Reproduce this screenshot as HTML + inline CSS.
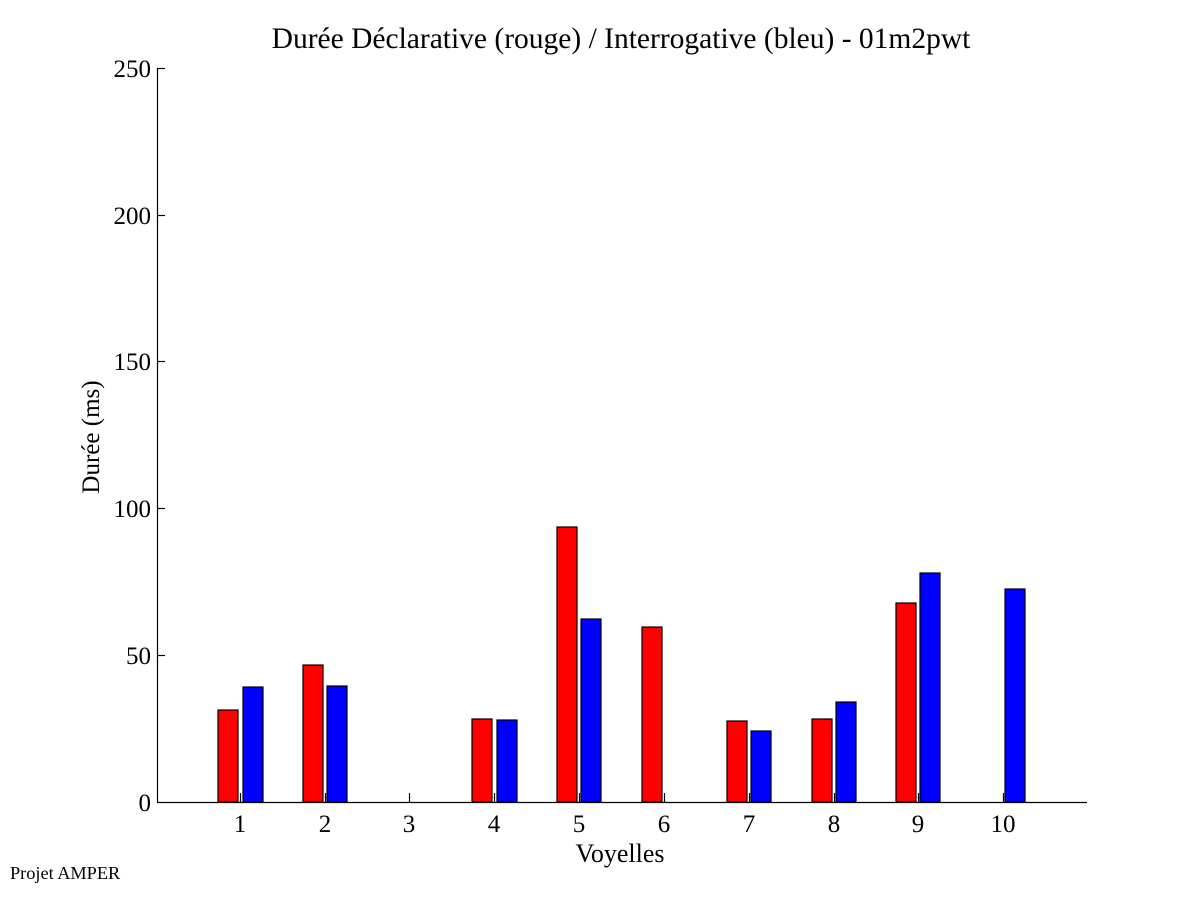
<!DOCTYPE html>
<html><head><meta charset="utf-8"><style>body{margin:0;background:#fff}svg{display:block}</style></head>
<body>
<svg width="1201" height="901" xmlns="http://www.w3.org/2000/svg" font-family="Liberation Serif, serif">
<rect width="1201" height="901" fill="#fff"/>
<text x="621" y="48" font-size="29.5" text-anchor="middle">Durée Déclarative (rouge) / Interrogative (bleu) - 01m2pwt</text>
<g stroke="#000" stroke-width="1.2" fill="none">
<line x1="157.5" y1="68" x2="157.5" y2="802"/>
<line x1="157" y1="802.5" x2="1087" y2="802.5"/>
<line x1="157" y1="68.5" x2="165" y2="68.5"/>
<line x1="157" y1="215.5" x2="165" y2="215.5"/>
<line x1="157" y1="361.5" x2="165" y2="361.5"/>
<line x1="157" y1="508.5" x2="165" y2="508.5"/>
<line x1="157" y1="655.5" x2="165" y2="655.5"/>
</g>
<g font-size="25" text-anchor="end">
<text x="151" y="77">250</text><text x="151" y="224">200</text><text x="151" y="370">150</text><text x="151" y="517">100</text><text x="151" y="664">50</text><text x="151" y="811">0</text>
</g>
<g stroke="#000" stroke-width="1.2">
<rect x="218" y="710" width="20" height="92" fill="#f00"/>
<rect x="243" y="687" width="20" height="115" fill="#00f"/>
<rect x="303" y="665" width="20" height="137" fill="#f00"/>
<rect x="327" y="686" width="20" height="116" fill="#00f"/>
<rect x="472" y="719" width="20" height="83" fill="#f00"/>
<rect x="497" y="720" width="20" height="82" fill="#00f"/>
<rect x="557" y="527" width="20" height="275" fill="#f00"/>
<rect x="581" y="619" width="20" height="183" fill="#00f"/>
<rect x="642" y="627" width="20" height="175" fill="#f00"/>
<rect x="727" y="721" width="20" height="81" fill="#f00"/>
<rect x="751" y="731" width="20" height="71" fill="#00f"/>
<rect x="812" y="719" width="20" height="83" fill="#f00"/>
<rect x="836" y="702" width="20" height="100" fill="#00f"/>
<rect x="896" y="603" width="20" height="199" fill="#f00"/>
<rect x="920" y="573" width="20" height="229" fill="#00f"/>
<rect x="1005" y="589" width="20" height="213" fill="#00f"/>
</g>
<g stroke="#000" stroke-width="1.2">
<line x1="240.5" y1="793" x2="240.5" y2="802"/><line x1="325.5" y1="793" x2="325.5" y2="802"/><line x1="409.5" y1="793" x2="409.5" y2="802"/><line x1="494.5" y1="793" x2="494.5" y2="802"/><line x1="579.5" y1="793" x2="579.5" y2="802"/><line x1="664.5" y1="793" x2="664.5" y2="802"/><line x1="749.5" y1="793" x2="749.5" y2="802"/><line x1="834.5" y1="793" x2="834.5" y2="802"/><line x1="918.5" y1="793" x2="918.5" y2="802"/><line x1="1003.5" y1="793" x2="1003.5" y2="802"/>
</g>
<g font-size="25" text-anchor="middle">
<text x="240" y="832">1</text><text x="325" y="832">2</text><text x="409" y="832">3</text><text x="494" y="832">4</text><text x="579" y="832">5</text><text x="664" y="832">6</text><text x="749" y="832">7</text><text x="834" y="832">8</text><text x="918" y="832">9</text><text x="1003" y="832">10</text>
</g>
<text x="620" y="862" font-size="26" text-anchor="middle">Voyelles</text>
<text transform="translate(99,437) rotate(-90)" font-size="25" text-anchor="middle">Durée (ms)</text>
<text x="10" y="879" font-size="18.3">Projet AMPER</text>
</svg>
</body></html>
